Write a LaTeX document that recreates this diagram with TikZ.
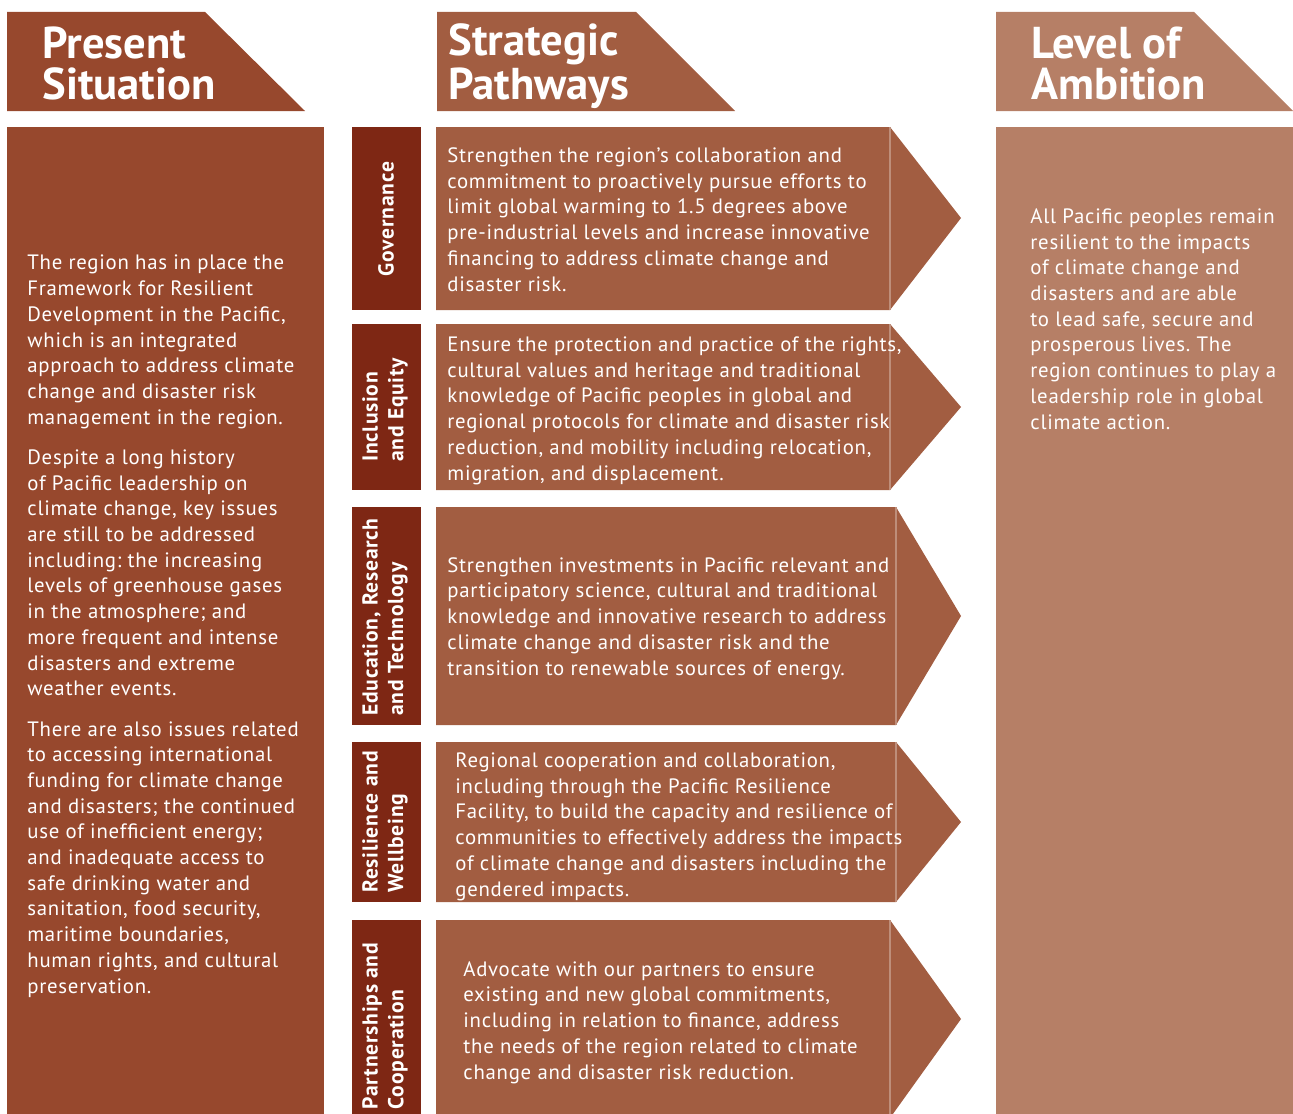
\documentclass[tikz,border=0pt]{standalone}
\usepackage{fontspec}
\setmainfont{PT Sans}
\newfontfamily\widesans{PT Sans}[LetterSpace=3.5]
\usetikzlibrary{positioning}
\frenchspacing
\definecolor{situbrown}{HTML}{97482D}
\definecolor{pathbrown}{HTML}{A25D41}
\definecolor{ambibrown}{HTML}{B67F66}
\definecolor{pillarred}{HTML}{7E2714}

\begin{document}
\begin{tikzpicture}[x=0.5pt,y=-0.5pt,
  headtext/.style={anchor=base west,inner sep=0pt,align=left,text=white,font=\bfseries\fontsize{22.3}{20.5}\selectfont},
  bodytext/.style={anchor=base west,inner sep=0pt,align=left,text=white,font=\widesans\fontsize{10.4}{12.85}\selectfont},
  pillartext/.style={rotate=90,inner sep=0pt,align=left,text=white,font=\widesans\bfseries\fontsize{10.8}{12.8}\selectfont}]
\useasboundingbox (0,0) rectangle (1293,1113);
\clip (0,0) rectangle (1293,1113);

% column heads (base anchor = last line)
\fill[situbrown] (7,12) -- (205,12) -- (305,111) -- (7,111) -- cycle;
\fill[pathbrown] (437,12) -- (636,12) -- (735,111) -- (437,111) -- cycle;
\fill[ambibrown] (996,12) -- (1194,12) -- (1293,111) -- (996,111) -- cycle;
\node[headtext] (hsit) at (42,99) {Present\\Situation};
\node[headtext] (hpath) at (448,99) {Strategic\\Pathways};
\node[headtext] (hamb) at (1031,99) {Level of\\Ambition};

% side columns
\fill[situbrown] (7,127) rectangle (324,1130);
\fill[ambibrown] (996,127) rectangle (1293,1130);
\node[bodytext] (sit) at (27,993) {The region has in place the\\Framework for Resilient\\Development in the Pacific,\\which is an integrated\\approach to address climate\\change and disaster risk\\management in the region.\\[7.3pt]
Despite a long history\\of Pacific leadership on\\climate change, key issues\\are still to be addressed\\including: the increasing\\levels of greenhouse gases\\in the atmosphere; and\\more frequent and intense\\disasters and extreme\\weather events.\\[7.3pt]
There are also issues related\\to accessing international\\funding for climate change\\and disasters; the continued\\use of inefficient energy;\\and inadequate access to\\safe drinking water and\\sanitation, food security,\\maritime boundaries,\\human rights, and cultural\\preservation.};
\node[bodytext] (amb) at (1030,429) {All Pacific peoples remain\\resilient to the impacts\\of climate change and\\disasters and are able\\to lead safe, secure and\\prosperous lives. The\\region continues to play a\\leadership role in global\\climate action.};

% pathway arrows
\foreach \top/\bot/\mid/\edge in {127/310/218/890, 324/490/407/890, 507/725/616/896, 742/902/822/896, 920/1118/1019/890}{
  \fill[pillarred] (352,\top) rectangle (421,\bot);
  \fill[pathbrown] (436,\top) -- (\edge,\top) -- (961,\mid) -- (\edge,\bot) -- (436,\bot) -- cycle;
  \draw[pathbrown!70!white,line width=0.6pt] (\edge,\top) -- (\edge,\bot);
}
\node[pillartext] (p0) at (386,219) {Governance};
\node[pillartext] (p1) at (385,410) {Inclusion\\and Equity};
\node[pillartext] (p2) at (385,617) {Education, Research\\and Technology};
\node[pillartext] (p3) at (385,822) {Resilience and\\Wellbeing};
\node[pillartext] (p4) at (385,1026) {Partnerships and\\Cooperation};

\node[bodytext] (t0) at (447,291) {Strengthen the region’s collaboration and\\commitment to proactively pursue efforts to\\limit global warming to 1.5 degrees above\\pre-industrial levels and increase innovative\\financing to address climate change and\\disaster risk.};
\node[bodytext] (t1) at (447,480) {Ensure the protection and practice of the rights,\\cultural values and heritage and traditional\\knowledge of Pacific peoples in global and\\regional protocols for climate and disaster risk\\reduction, and mobility including relocation,\\migration, and displacement.};
\node[bodytext] (t2) at (447,675) {Strengthen investments in Pacific relevant and\\participatory science, cultural and traditional\\knowledge and innovative research to address\\climate change and disaster risk and the\\transition to renewable sources of energy.};
\node[bodytext] (t3) at (455,896) {Regional cooperation and collaboration,\\including through the Pacific Resilience\\Facility, to build the capacity and resilience of\\communities to effectively address the impacts\\of climate change and disasters including the\\gendered impacts.};
\node[bodytext] (t4) at (463,1079) {Advocate with our partners to ensure\\existing and new global commitments,\\including in relation to finance, address\\the needs of the region related to climate\\change and disaster risk reduction.};
\end{tikzpicture}
\end{document}
